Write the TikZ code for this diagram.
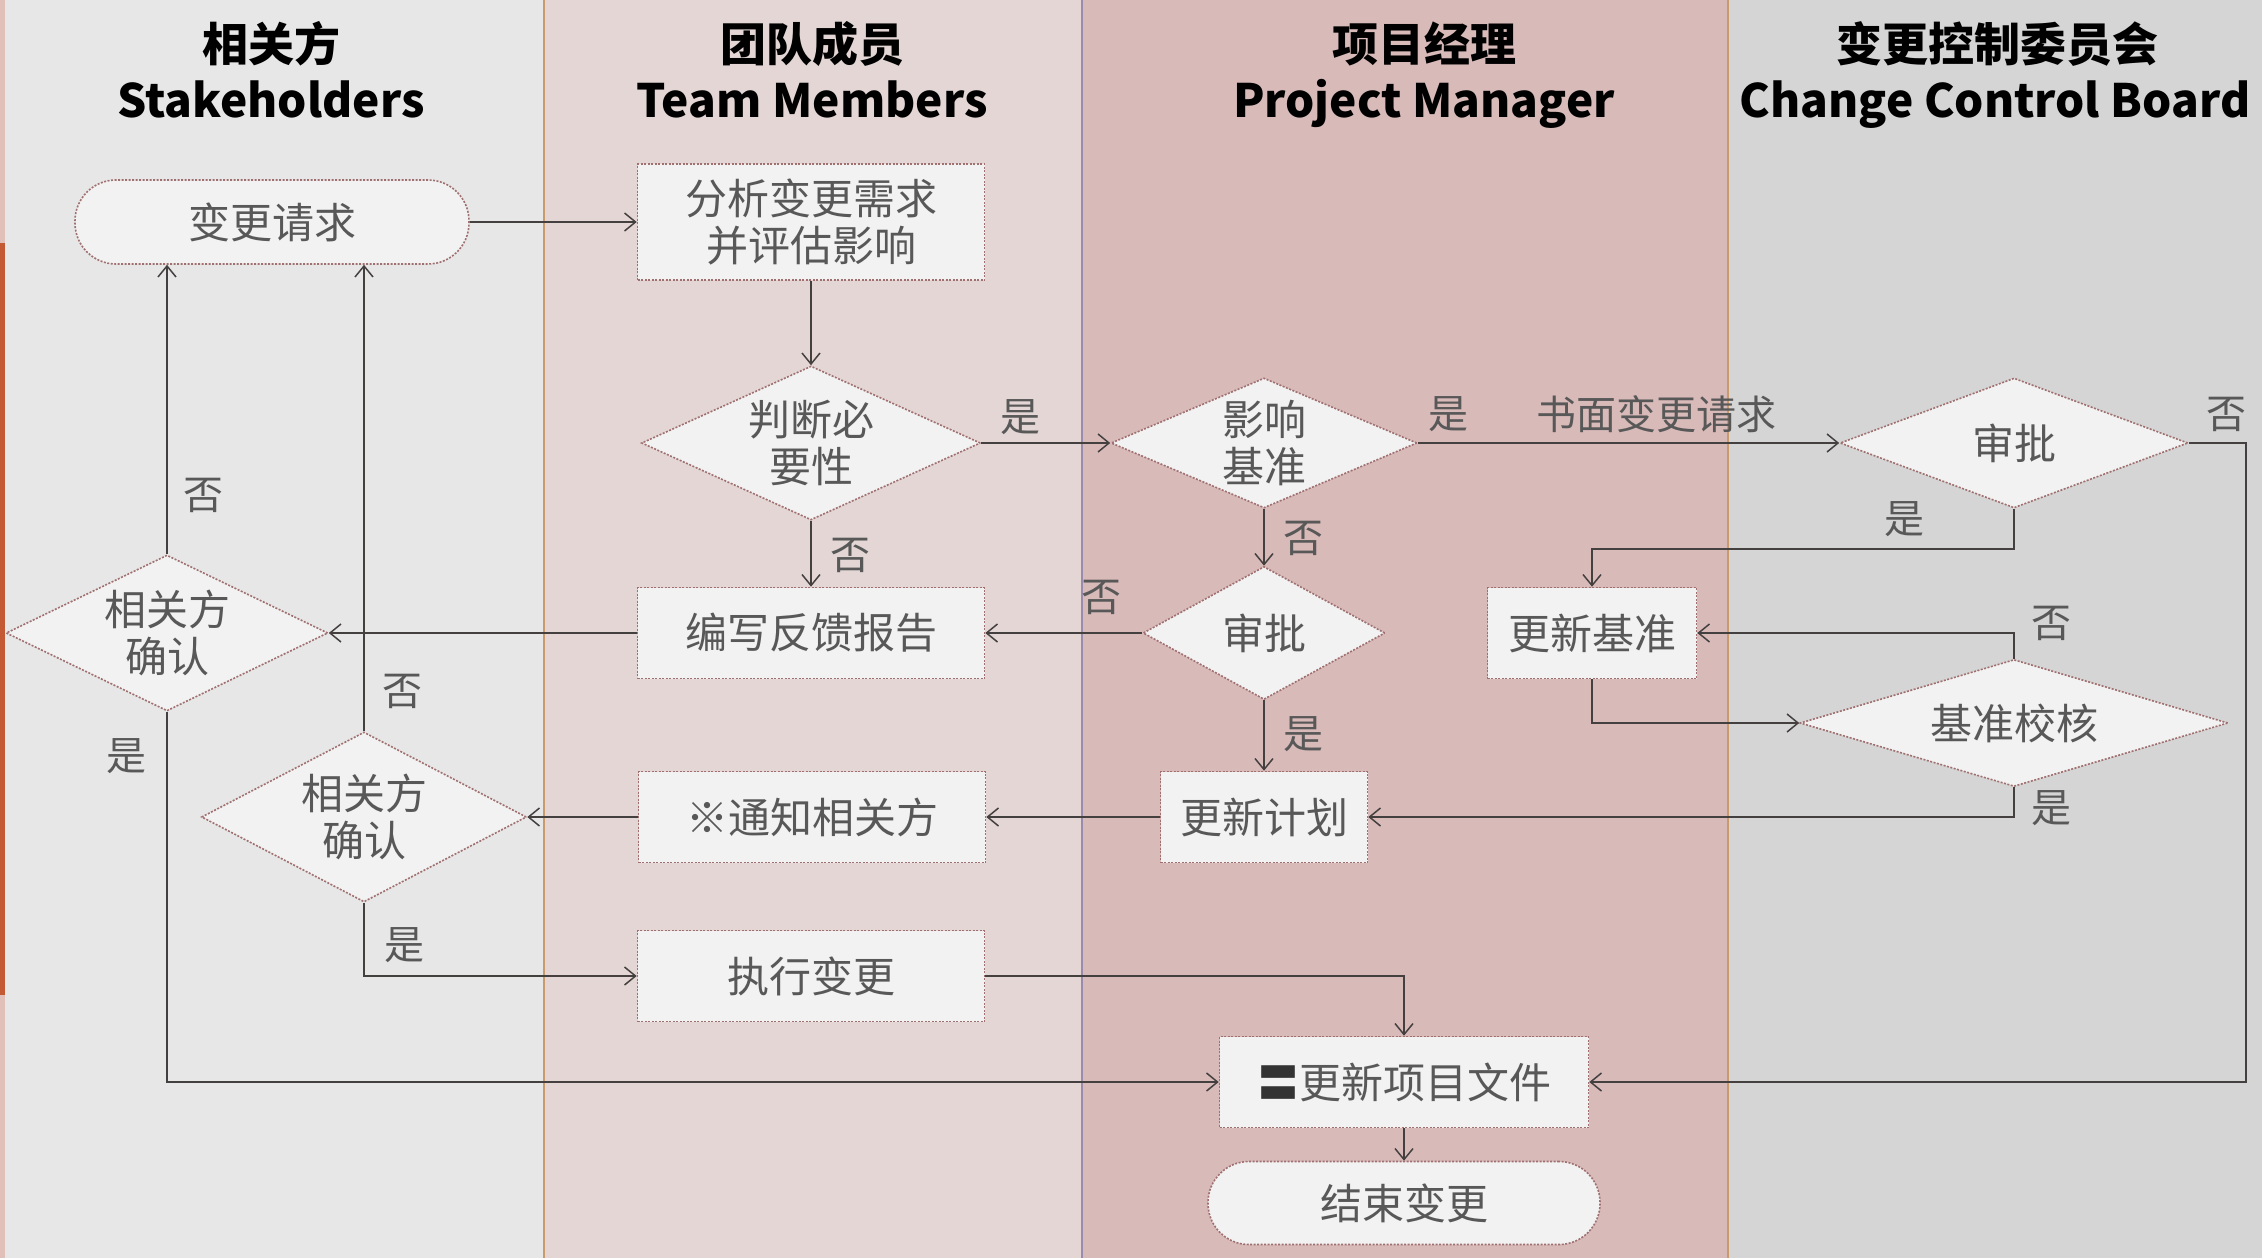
\documentclass[tikz,border=0pt]{standalone}
\usepackage{fontspec}
\setmainfont{Noto Sans CJK SC}
\usetikzlibrary{shapes.geometric,arrows.meta}
\definecolor{laneA}{HTML}{E7E7E7}
\definecolor{laneB}{HTML}{E3D6D5}
\definecolor{laneC}{HTML}{D8BAB9}
\definecolor{laneD}{HTML}{D5D5D5}
\definecolor{sepTan}{HTML}{C89A6C}
\definecolor{sepPur}{HTML}{9A8AAE}
\definecolor{edgeRed}{HTML}{C45A34}
\definecolor{edgePink}{HTML}{E0C0B8}
\definecolor{nodeFill}{HTML}{F2F2F2}
\definecolor{nodeBorder}{HTML}{A07070}
\definecolor{nodeText}{HTML}{585858}
\definecolor{lineCol}{HTML}{454040}
\newcommand\nfnt{\fontsize{42pt}{47pt}\selectfont}
\newcommand\lfnt{\fontsize{40pt}{44pt}\selectfont}
\newcommand\hcfnt{\bfseries\fontsize{46pt}{52pt}\selectfont}
\newcommand\hefnt{\bfseries\fontsize{46pt}{54pt}\selectfont}
\begin{document}
\begin{tikzpicture}[x=1pt,y=-1pt,
  box/.style={draw=nodeBorder, dash pattern=on 2pt off 1.5pt, line width=1.6pt,
    fill=nodeFill, text=nodeText, font=\nfnt, inner sep=0pt, align=center},
  proc/.style={box, rectangle},
  term/.style={box, rectangle, rounded corners=41pt},
  dec/.style={box, diamond},
  conn/.style={draw=lineCol, line width=1.5pt,
    -{Straight Barb[length=11pt,width=18pt,line width=1.5pt]}},
  lbl/.style={text=nodeText, font=\lfnt, inner sep=0pt},
  hc/.style={font=\hcfnt, text=black, anchor=base, inner sep=0pt},
  he/.style={font=\hefnt, text=black, anchor=base, inner sep=0pt}]
\useasboundingbox (0,0) rectangle (2262,1258);
% lanes
\fill[laneA] (0,0) rectangle (544,1258);
\fill[laneB] (544,0) rectangle (1082,1258);
\fill[laneC] (1082,0) rectangle (1728,1258);
\fill[laneD] (1728,0) rectangle (2262,1258);
\fill[edgePink] (0,0) rectangle (5,243);
\fill[edgeRed] (0,243) rectangle (5,995);
\fill[edgePink] (0,995) rectangle (5,1258);
\draw[sepTan, line width=2pt] (544,0) -- (544,1258);
\draw[sepPur, line width=2pt] (1082,0) -- (1082,1258);
\draw[sepTan, line width=2pt] (1728,0) -- (1728,1258);
% headers
\node[hc] (h1c) at (271,61) {相关方};
\node[he] (h1e) at (271,117) {Stakeholders};
\node[hc] (h2c) at (812,61) {团队成员};
\node[he] (h2e) at (812,117) {Team Members};
\node[hc] (h3c) at (1424,61) {项目经理};
\node[he] (h3e) at (1424,117) {Project Manager};
\node[hc] (h4c) at (1997,61) {变更控制委员会};
\node[he] (h4e) at (1995,117) {Change Control Board};
% nodes
\node[term, minimum width=394pt, minimum height=84pt] (req) at (272,222) {变更请求};
\node[proc, minimum width=347pt, minimum height=116pt] (analyze) at (811,222) {分析变更需求\\并评估影响};
\node[dec, minimum width=339pt, minimum height=154pt, aspect=2.2] (need) at (811,443) {判断必\\要性};
\node[proc, minimum width=347pt, minimum height=91pt] (feedback) at (811,633) {编写反馈报告};
\node[proc, minimum width=347pt, minimum height=91pt] (notify) at (812,817) {※通知相关方};
\node[proc, minimum width=347pt, minimum height=91pt] (exec) at (811,976) {执行变更};
\node[dec, minimum width=322pt, minimum height=156pt, aspect=2.06] (sc1) at (167,633) {相关方\\确认};
\node[dec, minimum width=325pt, minimum height=170pt, aspect=1.9] (sc2) at (364,817) {相关方\\确认};
\node[dec, minimum width=306pt, minimum height=130pt, aspect=2.35] (impact) at (1264,443) {影响\\基准};
\node[dec, minimum width=242pt, minimum height=133pt, aspect=1.8] (pmappr) at (1264,633) {审批};
\node[proc, minimum width=207pt, minimum height=91pt] (plan) at (1264,817) {更新计划};
\node[proc, minimum width=369pt, minimum height=91pt] (docs) at (1404,1082) {{\color{black!80}〓}更新项目文件};
\node[term, minimum width=392pt, minimum height=83pt] (finish) at (1404,1203) {结束变更};
\node[proc, minimum width=209pt, minimum height=91pt] (base) at (1592,633) {更新基准};
\node[dec, minimum width=348pt, minimum height=130pt, aspect=2.7] (ccb) at (2014,443) {审批};
\node[dec, minimum width=428pt, minimum height=127pt, aspect=3.4] (verify) at (2014,723) {基准校核};
\coordinate (rloop) at (2246,443);
% connectors
\draw[conn] (req.east) -- (analyze.west);
\draw[conn] (analyze.south) -- (need.north);
\draw[conn] (need.south) -- (feedback.north);
\draw[conn] (need.east) -- (impact.west);
\draw[conn] (impact.east) -- (ccb.west);
\draw[conn] (impact.south) -- (pmappr.north);
\draw[conn] (pmappr.west) -- (feedback.east);
\draw[conn] (pmappr.south) -- (plan.north);
\draw[conn] (ccb.south) -- ++(0,40) -| (base.north);
\draw[conn] (ccb.east) -- (rloop) |- (docs.east);
\draw[conn] (base.south) |- (verify.west);
\draw[conn] (verify.north) |- (base.east);
\draw[conn] (verify.south) |- (plan.east);
\draw[conn] (plan.west) -- (notify.east);
\draw[conn] (notify.west) -- (sc2.east);
\draw[conn] (feedback.west) -- (sc1.east);
\draw[conn] (sc1.north) -- (sc1.north |- req.south);
\draw[conn] (sc2.north) -- (sc2.north |- req.south);
\draw[conn] (sc1.south) |- (docs.west);
\draw[conn] (sc2.south) |- (exec.west);
\draw[conn] (exec.east) -| (docs.north);
\draw[conn] (docs.south) -- (finish.north);
% labels
\node[lbl] (l1) at (850,555) {否};
\node[lbl] (l2) at (1020,417) {是};
\node[lbl] (l3) at (1448,414) {是};
\node[lbl] (l4) at (1656,414) {书面变更请求};
\node[lbl] (l5) at (1303,538) {否};
\node[lbl] (l6) at (1101,597) {否};
\node[lbl] (l7) at (1303,734) {是};
\node[lbl] (l8) at (1904,519) {是};
\node[lbl] (l9) at (2226,414) {否};
\node[lbl] (l10) at (2051,623) {否};
\node[lbl] (l11) at (2051,808) {是};
\node[lbl] (l12) at (203,495) {否};
\node[lbl] (l13) at (402,691) {否};
\node[lbl] (l14) at (126,756) {是};
\node[lbl] (l15) at (404,945) {是};
\end{tikzpicture}
\end{document}
